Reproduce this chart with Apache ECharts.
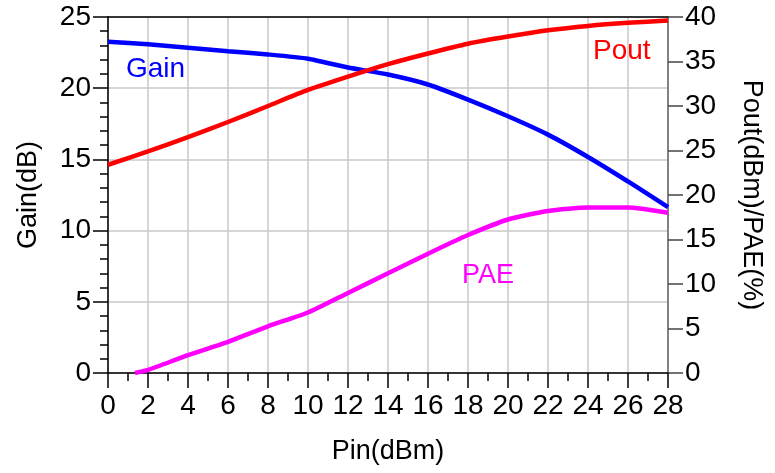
<!DOCTYPE html>
<html>
<head>
<meta charset="utf-8">
<script src="https://cdn.jsdelivr.net/npm/echarts@6/dist/echarts.min.js"></script>
<style>
html,body{margin:0;padding:0;background:#fff;}
#chart{width:775px;height:473px;}
</style>
</head>
<body>
<div id="chart"></div>
<script>
// Pin (dBm) sample points
const pin = [0, 2, 4, 6, 8, 10, 12, 14, 16, 18, 20, 22, 24, 26, 28];
// Gain (dB) - left axis
const gain = [23.27, 23.08, 22.84, 22.6, 22.37, 22.07, 21.45, 20.96, 20.26, 19.2, 18.03, 16.74, 15.17, 13.45, 11.65];
// Pout (dBm) - right axis
const pout = [23.4, 24.9, 26.5, 28.2, 30.0, 31.8, 33.3, 34.7, 35.9, 37.0, 37.8, 38.5, 39.0, 39.35, 39.6];
// PAE (%) - right axis
const paePin = [1.35, 2, 4, 6, 8, 10, 12, 14, 16, 18, 20, 22, 24, 26, 28];
const pae = [0, 0.35, 2.0, 3.5, 5.25, 6.8, 9.0, 11.2, 13.4, 15.5, 17.25, 18.2, 18.6, 18.6, 18.0];
// tick labels / axis ranges
const xTicks = {min: 0, max: 28, step: 2};
const gainTicks = {min: 0, max: 25, step: 5};
const rightTicks = {min: 0, max: 40, step: 5};

const pair = (xs, ys) => xs.map((x, i) => [x, ys[i]]);
const FONT = 'Liberation Sans, Arial, sans-serif';

const chart = echarts.init(document.getElementById('chart'), null, {renderer: 'canvas'});
chart.setOption({
  animation: false,
  backgroundColor: '#fff',
  grid: {left: 108, right: 107, top: 17, bottom: 100, containLabel: false},
  xAxis: [{
    type: 'value', min: xTicks.min, max: xTicks.max, interval: xTicks.step,
    name: 'Pin(dBm)', nameLocation: 'middle', nameGap: 65,
    nameTextStyle: {fontSize: 27, color: '#000', fontFamily: FONT},
    axisLine: {show: true, onZero: false, lineStyle: {color: '#000', width: 1.5}},
    axisTick: {show: true, inside: false, length: 15, lineStyle: {color: '#000', width: 1.5}},
    minorTick: {show: true, splitNumber: 2, length: 8, lineStyle: {color: '#000', width: 1.5}},
    axisLabel: {fontSize: 28, color: '#000', margin: 19, fontFamily: FONT},
    splitLine: {show: true, lineStyle: {color: '#c8c8c8', width: 1.5}}
  }, {
    type: 'value', position: 'top', min: xTicks.min, max: xTicks.max,
    axisLine: {show: true, onZero: false, lineStyle: {color: '#000', width: 1.5}},
    axisTick: {show: false}, axisLabel: {show: false}, splitLine: {show: false}
  }],
  yAxis: [{
    type: 'value', position: 'left', min: gainTicks.min, max: gainTicks.max, interval: gainTicks.step,
    name: 'Gain(dB)', nameLocation: 'middle', nameGap: 66,
    nameTextStyle: {fontSize: 27, color: '#000', fontFamily: FONT},
    axisLine: {show: true, onZero: false, lineStyle: {color: '#000', width: 1.5}},
    axisTick: {show: true, inside: false, length: 15, lineStyle: {color: '#000', width: 1.5}},
    minorTick: {show: true, splitNumber: 5, length: 8, lineStyle: {color: '#000', width: 1.5}},
    axisLabel: {fontSize: 28, color: '#000', margin: 17, fontFamily: FONT},
    splitLine: {show: true, lineStyle: {color: '#c8c8c8', width: 1.5}}
  }, {
    type: 'value', position: 'right', min: rightTicks.min, max: rightTicks.max, interval: rightTicks.step,
    name: 'Pout(dBm)/PAE(%)', nameLocation: 'middle', nameGap: 70, nameRotate: -90,
    nameTextStyle: {fontSize: 27, color: '#000', fontFamily: FONT},
    axisLine: {show: true, onZero: false, lineStyle: {color: '#666', width: 1.5}},
    axisTick: {show: true, inside: false, length: 15, lineStyle: {color: '#444', width: 1.5}},
    axisLabel: {fontSize: 28, color: '#000', margin: 17, fontFamily: FONT},
    splitLine: {show: false}
  }],
  series: [{
    name: 'Gain', type: 'line', xAxisIndex: 0, yAxisIndex: 0,
    data: pair(pin, gain), showSymbol: false, smooth: 0.2,
    lineStyle: {color: '#0000ff', width: 4.5}, z: 3
  }, {
    name: 'Pout', type: 'line', xAxisIndex: 0, yAxisIndex: 1,
    data: pair(pin, pout), showSymbol: false, smooth: 0.2,
    lineStyle: {color: '#ff0000', width: 4.5}, z: 3
  }, {
    name: 'PAE', type: 'line', xAxisIndex: 0, yAxisIndex: 1,
    data: pair(paePin, pae), showSymbol: false, smooth: 0.2,
    lineStyle: {color: '#ff00ff', width: 4.5}, z: 3
  }],
  graphic: [
    {type: 'text', z: 100, left: 126, top: 55, style: {text: 'Gain', fill: '#0000ff', font: '28px ' + FONT}},
    {type: 'text', z: 100, left: 593, top: 37, style: {text: 'Pout', fill: '#ff0000', font: '28px ' + FONT}},
    {type: 'text', z: 100, left: 462, top: 262, style: {text: 'PAE', fill: '#ff00ff', font: '27px ' + FONT}}
  ]
});
</script>
</body>
</html>
